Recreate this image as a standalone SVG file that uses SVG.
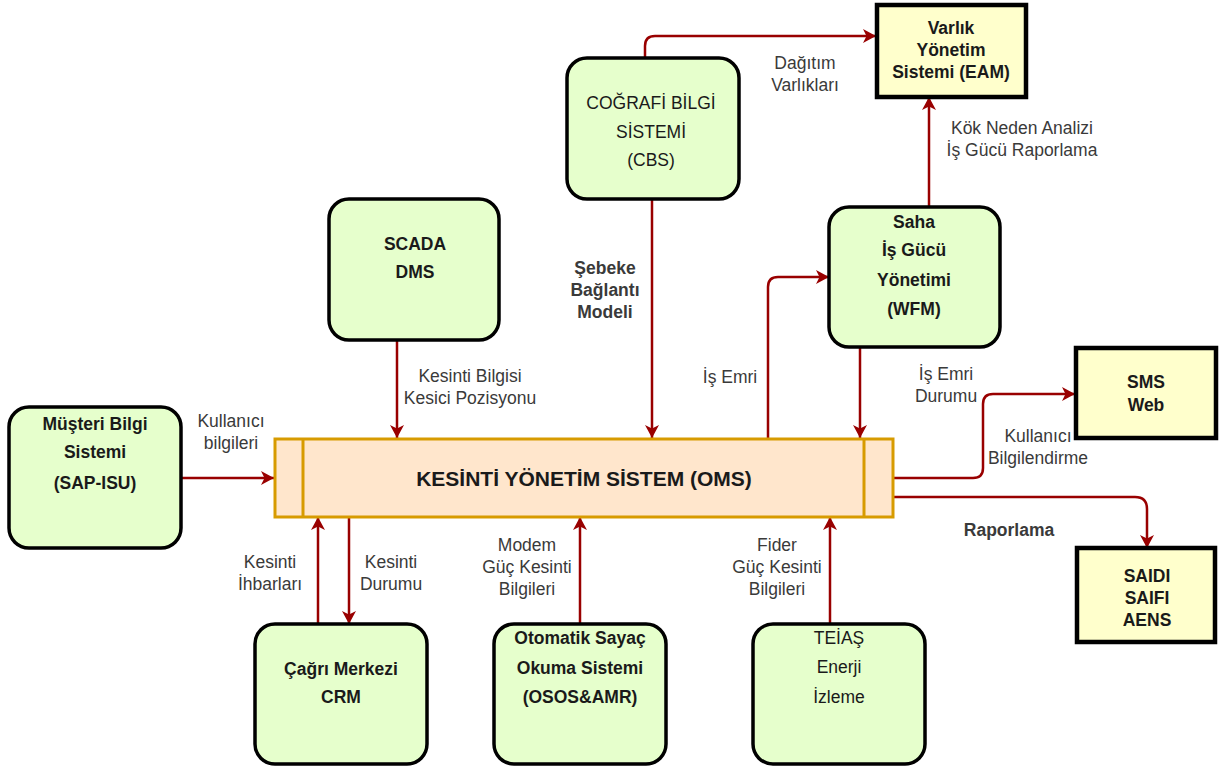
<svg xmlns="http://www.w3.org/2000/svg" width="1220" height="769" viewBox="0 0 1220 769">
<defs>
<marker id="ah" markerUnits="userSpaceOnUse" markerWidth="14" markerHeight="14" refX="13" refY="7" orient="auto">
<path d="M0 0 L13 7 L0 14 L3.5 7 Z" fill="#990000"/>
</marker>
<style>
.g{fill:#E6FFCC;stroke:#000;stroke-width:3.5}
.y{fill:#FFFFCC;stroke:#000;stroke-width:4.5}
.o{fill:#FFE6CC;stroke:#D79B00;stroke-width:3}
.t{font-family:"Liberation Sans",Arial,sans-serif;font-size:17.5px;fill:#1a1a1a;text-anchor:middle}
.b{font-weight:bold}
.l{font-family:"Liberation Sans",Arial,sans-serif;font-size:17.5px;fill:#3a3a3a;text-anchor:middle}
.c{fill:none;stroke:#990000;stroke-width:2.5}
</style>
</defs>
<rect width="1220" height="769" fill="#fff"/>

<g id="connectors">
<path class="c" marker-end="url(#ah)" d="M645 58 V46 Q645 36 655 36 H876"/>
<path class="c" marker-end="url(#ah)" d="M929 207 V97"/>
<path class="c" marker-end="url(#ah)" d="M652 199 V438"/>
<path class="c" marker-end="url(#ah)" d="M397 340 V438"/>
<path class="c" marker-end="url(#ah)" d="M181 478 H274"/>
<path class="c" marker-end="url(#ah)" d="M768 438 V287 Q768 277 778 277 H829"/>
<path class="c" marker-end="url(#ah)" d="M860 347 V438"/>
<path class="c" marker-end="url(#ah)" d="M893 478 H973 Q983 478 983 468 V404 Q983 394 993 394 H1075"/>
<path class="c" marker-end="url(#ah)" d="M893 497 H1135 Q1147 497 1147 509 V548"/>
<path class="c" marker-end="url(#ah)" d="M318 624 V517"/>
<path class="c" marker-end="url(#ah)" d="M349 517 V624"/>
<path class="c" marker-end="url(#ah)" d="M580 624 V517"/>
<path class="c" marker-end="url(#ah)" d="M830 624 V517"/>
</g>

<g id="labels">
<text class="l" x="805" y="69">Dağıtım</text>
<text class="l" x="805" y="91">Varlıkları</text>
<text class="l" x="1022" y="134">Kök Neden Analizi</text>
<text class="l" x="1022" y="156">İş Gücü Raporlama</text>
<text class="l b" x="605" y="274">Şebeke</text>
<text class="l b" x="605" y="296">Bağlantı</text>
<text class="l b" x="605" y="318">Modeli</text>
<text class="l" x="470" y="382">Kesinti Bilgisi</text>
<text class="l" x="470" y="404">Kesici Pozisyonu</text>
<text class="l" x="730" y="383">İş Emri</text>
<text class="l" x="946" y="380">İş Emri</text>
<text class="l" x="946" y="402">Durumu</text>
<text class="l" x="231" y="427">Kullanıcı</text>
<text class="l" x="231" y="449">bilgileri</text>
<text class="l" x="1038" y="442">Kullanıcı</text>
<text class="l" x="1038" y="464">Bilgilendirme</text>
<text class="l b" x="1009" y="536">Raporlama</text>
<text class="l" x="270" y="568">Kesinti</text>
<text class="l" x="270" y="590">İhbarları</text>
<text class="l" x="391" y="568">Kesinti</text>
<text class="l" x="391" y="590">Durumu</text>
<text class="l" x="527" y="551">Modem</text>
<text class="l" x="527" y="573">Güç Kesinti</text>
<text class="l" x="527" y="595">Bilgileri</text>
<text class="l" x="777" y="551">Fider</text>
<text class="l" x="777" y="573">Güç Kesinti</text>
<text class="l" x="777" y="595">Bilgileri</text>
</g>

<g id="eam">
<rect class="y" x="877" y="5" width="149" height="92"/>
<text class="t b" x="951" y="34">Varlık</text>
<text class="t b" x="951" y="56">Yönetim</text>
<text class="t b" x="951" y="78">Sistemi (EAM)</text>
</g>

<g id="cbs">
<rect class="g" x="567" y="58" width="172" height="141" rx="20"/>
<text class="t" x="651" y="109">COĞRAFİ BİLGİ</text>
<text class="t" x="651" y="138">SİSTEMİ</text>
<text class="t" x="651" y="166">(CBS)</text>
</g>

<g id="scada">
<rect class="g" x="329" y="199" width="170" height="141" rx="20"/>
<text class="t b" x="415" y="250">SCADA</text>
<text class="t b" x="415" y="278">DMS</text>
</g>

<g id="wfm">
<rect class="g" x="829" y="207" width="171" height="140" rx="20"/>
<text class="t b" x="914" y="228">Saha</text>
<text class="t b" x="914" y="256">İş Gücü</text>
<text class="t b" x="914" y="286">Yönetimi</text>
<text class="t b" x="914" y="315">(WFM)</text>
</g>

<g id="sms">
<rect class="y" x="1076" y="348" width="140" height="90"/>
<text class="t b" x="1146" y="388">SMS</text>
<text class="t b" x="1146" y="411">Web</text>
</g>

<g id="musteri">
<rect class="g" x="9" y="407" width="172" height="141" rx="20"/>
<text class="t b" x="95" y="430">Müşteri Bilgi</text>
<text class="t b" x="95" y="458">Sistemi</text>
<text class="t b" x="95" y="489">(SAP-ISU)</text>
</g>

<g id="oms">
<rect class="o" x="275" y="439" width="618" height="78"/>
<line x1="303" y1="439" x2="303" y2="517" stroke="#D79B00" stroke-width="3"/>
<line x1="864" y1="439" x2="864" y2="517" stroke="#D79B00" stroke-width="3"/>
<text class="t b" x="584" y="486" style="font-size:21px">KESİNTİ YÖNETİM SİSTEM (OMS)</text>
</g>

<g id="saidi">
<rect class="y" x="1077" y="548" width="138" height="94"/>
<text class="t b" x="1147" y="582">SAIDI</text>
<text class="t b" x="1147" y="604">SAIFI</text>
<text class="t b" x="1147" y="626">AENS</text>
</g>

<g id="crm">
<rect class="g" x="255" y="624" width="172" height="140" rx="20"/>
<text class="t b" x="341" y="675">Çağrı Merkezi</text>
<text class="t b" x="341" y="703">CRM</text>
</g>

<g id="osos">
<rect class="g" x="494" y="624" width="172" height="140" rx="20"/>
<text class="t b" x="580" y="644">Otomatik Sayaç</text>
<text class="t b" x="580" y="674">Okuma Sistemi</text>
<text class="t b" x="580" y="703">(OSOS&amp;AMR)</text>
</g>

<g id="teias">
<rect class="g" x="753" y="624" width="172" height="140" rx="20"/>
<text class="t" x="839" y="644">TEİAŞ</text>
<text class="t" x="839" y="673">Enerji</text>
<text class="t" x="839" y="703">İzleme</text>
</g>
</svg>
